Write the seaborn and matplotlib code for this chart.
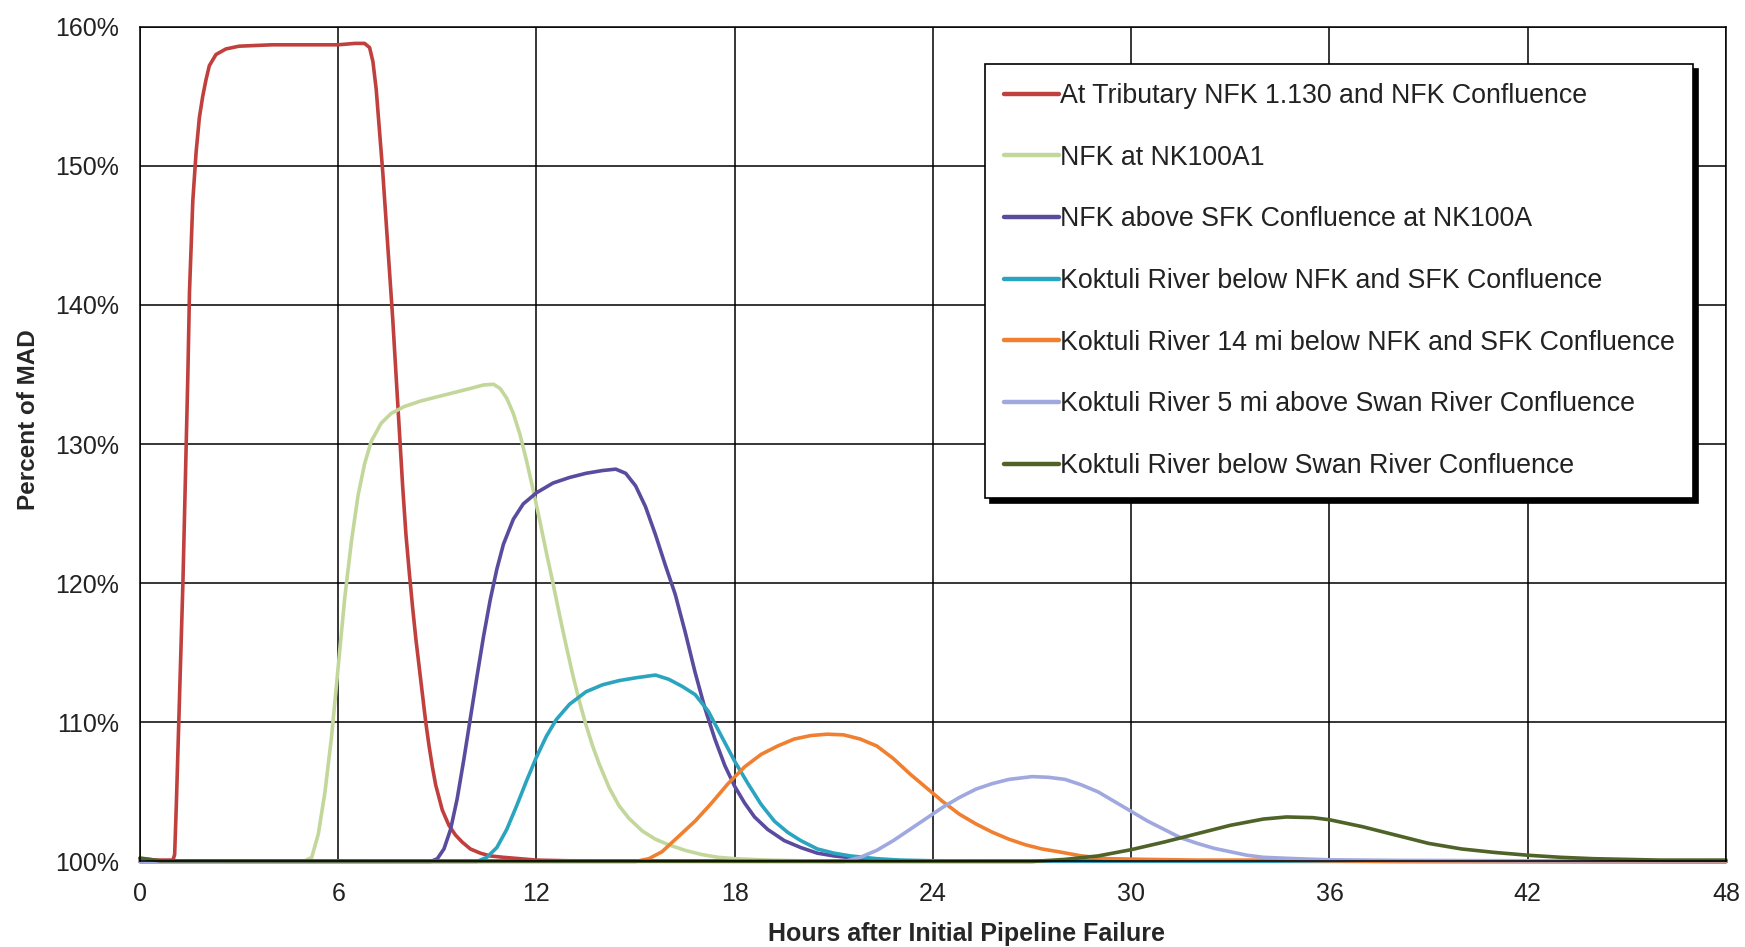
import matplotlib
matplotlib.use("Agg")
import matplotlib.pyplot as plt
import pandas as pd
import seaborn as sns

# Series names (legend order)
series_names = [
    "At Tributary NFK 1.130 and NFK Confluence",
    "NFK at NK100A1",
    "NFK above SFK Confluence at NK100A",
    "Koktuli River below NFK and SFK Confluence",
    "Koktuli River 14 mi below NFK and SFK Confluence",
    "Koktuli River 5 mi above Swan River Confluence",
    "Koktuli River below Swan River Confluence",
]
series_colors = ["#C0403D", "#C4D79B", "#5B4B9E", "#2AA4BF", "#F08030", "#A0A8E0", "#4F6228"]

# Values: hours after failure and percent of MAD
trib_hours = [0, 0.5, 1.0, 1.05, 1.1, 1.15, 1.2, 1.25, 1.3, 1.35, 1.4, 1.45, 1.5, 1.6, 1.7, 1.8, 1.9,
              2.0, 2.1, 2.3, 2.6, 3.0, 4.0, 5.0, 6.0, 6.5, 6.8, 6.95, 7.05, 7.15, 7.25, 7.35, 7.45, 7.55,
              7.65, 7.75, 7.85, 7.95, 8.05, 8.15, 8.25, 8.35, 8.45, 8.55, 8.65, 8.75, 8.85, 8.95, 9.15, 9.35, 9.55,
              9.75, 10.0, 10.3, 10.6, 11.0, 11.5, 12.0, 13.0, 48.0]
trib_pct = [100.2, 100.1, 100.1, 100.5, 104, 108, 112, 116, 120, 125, 130, 135, 141, 147.5, 151, 153.5, 155,
            156.2, 157.2, 158.0, 158.4, 158.6, 158.7, 158.7, 158.7, 158.8, 158.8, 158.5, 157.5, 155.5, 152.5, 149.5, 146, 142.5,
            139, 135, 131, 127, 123.5, 120.8, 118.3, 116, 114, 112, 110, 108.3, 106.8, 105.5, 103.7, 102.6, 101.9,
            101.4, 100.9, 100.6, 100.4, 100.3, 100.2, 100.1, 100.05, 100.0]

nk100a1_hours = [0, 5.0, 5.2, 5.4, 5.6, 5.8, 6.0, 6.2, 6.4, 6.6, 6.8, 7.0, 7.3, 7.6, 8.0, 8.5, 9.0, 9.5,
                 10.0, 10.4, 10.7, 10.9, 11.1, 11.3, 11.5, 11.7, 11.9, 12.1, 12.3, 12.5, 12.7, 12.9, 13.1,
                 13.3, 13.5, 13.7, 13.9, 14.2, 14.5, 14.8, 15.2, 15.6, 16.0, 16.5, 17.0, 17.5, 18.0, 19.0,
                 21.0, 48.0]
nk100a1_pct = [100, 100.05, 100.3, 102, 105, 109, 114, 119, 123, 126.3, 128.6, 130.2, 131.5, 132.2, 132.7, 133.1, 133.4, 133.7,
               134.0, 134.25, 134.3, 134.0, 133.3, 132.2, 130.7, 128.8, 126.7, 124.5, 122.2, 120, 117.7, 115.5, 113.4,
               111.5, 109.8, 108.3, 107, 105.3, 104, 103.1, 102.2, 101.6, 101.2, 100.8, 100.5, 100.3, 100.2, 100.1,
               100.0, 100.0]

nk100a_hours = [0, 8.8, 9.0, 9.2, 9.4, 9.6, 9.8, 10.0, 10.2, 10.4, 10.6, 10.8, 11.0, 11.3, 11.6, 12.0, 12.5,
                13.0, 13.5, 14.0, 14.4, 14.7, 15.0, 15.3, 15.6, 15.9, 16.2, 16.5, 16.8, 17.1, 17.4, 17.7,
                18.0, 18.3, 18.6, 19.0, 19.5, 20.0, 20.5, 21.0, 22.0, 23.0, 48.0]
nk100a_pct = [100, 100, 100.2, 100.9, 102.3, 104.5, 107.3, 110.3, 113.3, 116.2, 118.8, 121.0, 122.8, 124.6, 125.7, 126.5, 127.2,
              127.6, 127.9, 128.1, 128.2, 127.9, 127.0, 125.5, 123.5, 121.3, 119.2, 116.5, 113.6, 111.0, 108.8, 106.9,
              105.4, 104.2, 103.2, 102.3, 101.5, 101.0, 100.6, 100.4, 100.15, 100.05, 100.0]

below_conf_hours = [0, 10.2, 10.5, 10.8, 11.1, 11.4, 11.7, 12.0, 12.3, 12.6, 13.0, 13.5, 14.0, 14.5, 15.0,
                    15.6, 16.0, 16.4, 16.8, 17.2, 17.6, 18.0, 18.4, 18.8, 19.2, 19.6, 20.0, 20.5, 21.0,
                    21.5, 22.3, 23.0, 24.0, 48.0]
below_conf_pct = [100, 100, 100.3, 101.0, 102.3, 104, 105.8, 107.5, 109, 110.2, 111.3, 112.2, 112.7, 113.0, 113.2,
                  113.4, 113.1, 112.6, 112.0, 110.8, 109.0, 107.2, 105.6, 104.1, 102.9, 102.1, 101.5, 100.9, 100.6,
                  100.4, 100.2, 100.1, 100.05, 100.0]

mi14_hours = [0, 15.0, 15.4, 15.8, 16.3, 16.8, 17.3, 17.8, 18.3, 18.8, 19.3, 19.8, 20.3, 20.8, 21.3, 21.8,
              22.3, 22.8, 23.3, 23.8, 24.3, 24.8, 25.3, 25.8, 26.3, 26.8, 27.3, 27.8, 28.5, 29.3, 30.5,
              32.0, 34.0, 36.0, 38.0, 48.0]
mi14_pct = [100, 100, 100.2, 100.7, 101.8, 102.9, 104.2, 105.6, 106.8, 107.7, 108.3, 108.8, 109.05, 109.15, 109.1, 108.8,
            108.3, 107.4, 106.3, 105.3, 104.3, 103.4, 102.7, 102.1, 101.6, 101.2, 100.9, 100.7, 100.4, 100.2, 100.15,
            100.1, 100.1, 100.05, 100.0, 100.0]

swan_above_hours = [0, 21.3, 21.8, 22.3, 22.8, 23.3, 23.8, 24.3, 24.8, 25.3, 25.8, 26.3, 27.0, 27.5, 28.0,
                    28.5, 29.0, 29.5, 30.0, 30.5, 31.0, 31.5, 32.0, 32.5, 33.0, 33.5, 34.0, 35.0, 36.0,
                    38.0, 42.0, 48.0]
swan_above_pct = [100, 100, 100.3, 100.8, 101.5, 102.3, 103.1, 103.9, 104.6, 105.2, 105.6, 105.9, 106.1, 106.05, 105.9,
                  105.5, 105.0, 104.3, 103.6, 102.9, 102.3, 101.7, 101.3, 100.95, 100.7, 100.45, 100.3, 100.2, 100.12,
                  100.08, 100.05, 100.05]

swan_below_hours = [0, 0.3, 0.6, 27.0, 28.0, 29.0, 30.0, 31.0, 32.0, 33.0, 34.0, 34.7, 35.5, 36.0, 37.0, 38.0,
                    39.0, 40.0, 41.0, 42.0, 43.0, 44.0, 45.0, 46.0, 48.0]
swan_below_pct = [100.25, 100.15, 100.05, 100.0, 100.15, 100.4, 100.85, 101.4, 102.0, 102.6, 103.05, 103.2, 103.15, 103.0, 102.5, 101.9,
                  101.3, 100.9, 100.65, 100.45, 100.3, 100.2, 100.15, 100.1, 100.1]

x_ticks = [0, 6, 12, 18, 24, 30, 36, 42, 48]
y_ticks = [100, 110, 120, 130, 140, 150, 160]
y_tick_labels = ["100%", "110%", "120%", "130%", "140%", "150%", "160%"]

# Build a long table for seaborn
all_hours = [trib_hours, nk100a1_hours, nk100a_hours, below_conf_hours, mi14_hours, swan_above_hours, swan_below_hours]
all_pct = [trib_pct, nk100a1_pct, nk100a_pct, below_conf_pct, mi14_pct, swan_above_pct, swan_below_pct]
frames = []
for name, hrs, pct in zip(series_names, all_hours, all_pct):
    frames.append(pd.DataFrame({"hours": hrs, "pct": pct, "location": name}))
df = pd.concat(frames, ignore_index=True)

sns.set_style("white")
plt.rcParams["font.family"] = ["Liberation Sans", "DejaVu Sans"]

fig = plt.figure(figsize=(17.45, 9.47), dpi=100)
ax = fig.add_axes([0.0802, 0.0903, 0.9089, 0.8815])

sns.lineplot(data=df, x="hours", y="pct", hue="location", hue_order=series_names,
             palette=dict(zip(series_names, series_colors)), estimator=None, sort=False,
             linewidth=2.6, ax=ax)
for line in ax.lines:
    line.set_clip_on(False)

# Axes, grid and ticks
ax.set_xlim(0, 48)
ax.set_ylim(100, 160)
ax.set_xticks(x_ticks)
ax.set_xticklabels([str(t) for t in x_ticks])
ax.set_yticks(y_ticks)
ax.set_yticklabels(y_tick_labels)
ax.grid(True, color="black", linewidth=1.1)
ax.set_axisbelow(True)
for spine in ax.spines.values():
    spine.set_color("black")
    spine.set_linewidth(1.1)
ax.tick_params(axis="both", direction="out", length=5, width=1.1, color="black",
               labelsize=18, labelcolor="#222222", pad=10)

ax.set_xlabel("Hours after Initial Pipeline Failure", fontsize=18, fontweight="bold")
ax.set_ylabel("Percent of MAD", fontsize=17.5, fontweight="bold")
ax.xaxis.set_label_coords(0.521, -0.072)
ax.yaxis.set_label_coords(-0.063, 0.529)

# Legend with black drop shadow
leg = ax.legend(loc="upper left", bbox_to_anchor=(0.533, 0.955), fontsize=19.3,
                frameon=True, fancybox=False, edgecolor="black", framealpha=1,
                handlelength=2.05, handletextpad=0.02, labelspacing=1.33, borderpad=0.7,
                borderaxespad=0, shadow={"color": "black", "alpha": 1, "ox": 3.5, "oy": -3.5})
leg.get_frame().set_linewidth(1.2)
for text in leg.get_texts():
    text.set_color("#222222")
for handle in leg.get_lines():
    handle.set_linewidth(3.2)

fig.savefig("out.png", dpi=100, facecolor="white")
